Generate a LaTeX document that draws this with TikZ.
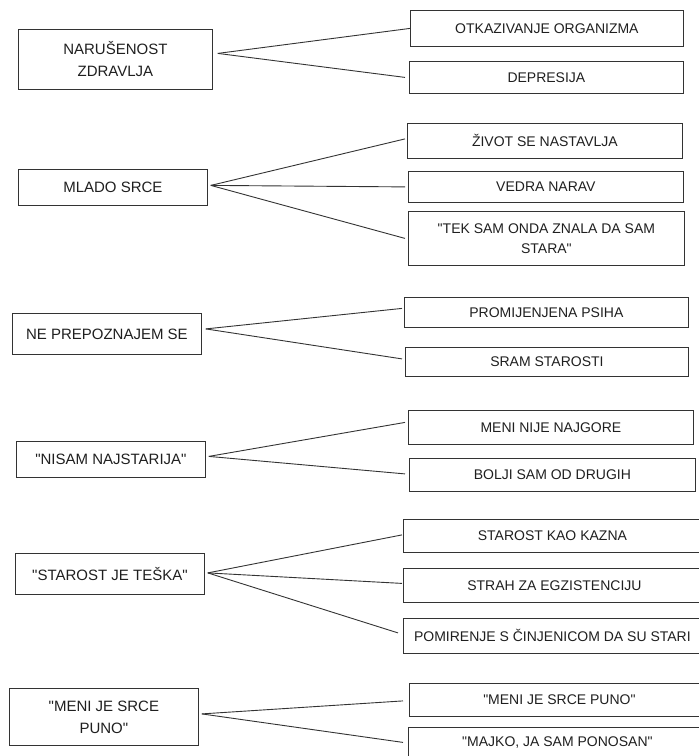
\documentclass[tikz,border=0pt]{standalone}
\usepackage{fontspec}
\setmainfont{Liberation Sans}[Ligatures=TeXOff]
\begin{document}
\begin{tikzpicture}[x=1pt,y=-1pt,
  catbox/.style={draw=black!80, line width=0.8pt, anchor=north west, inner sep=0pt,
    align=center, text=black!88, font=\fontsize{15}{22}\selectfont},
  subbox/.style={draw=black!80, line width=0.8pt, anchor=north west, inner sep=0pt,
    align=center, text=black!88, font=\fontsize{14}{20}\selectfont},
  link/.style={draw=black!80, line width=0.9pt}]
\useasboundingbox (0,0) rectangle (699,756);
\clip (0,0) rectangle (699,756);

% left-hand categories
\node[catbox, minimum width=194pt, minimum height=60pt] (L1) at (18,29) {NARUŠENOST\\ZDRAVLJA};
\node[catbox, minimum width=189pt, minimum height=36pt] (L2) at (18,169) {MLADO SRCE};
\node[catbox, minimum width=189pt, minimum height=41pt] (L3) at (12,313) {NE PREPOZNAJEM SE};
\node[catbox, minimum width=189pt, minimum height=36pt] (L4) at (16,441) {"NISAM NAJSTARIJA"};
\node[catbox, minimum width=189pt, minimum height=41pt] (L5) at (15,553) {"STAROST JE TEŠKA"};
\node[catbox, minimum width=189pt, minimum height=57pt] (L6) at (9,688) {"MENI JE SRCE\\PUNO"};

% right-hand subthemes
\node[subbox, minimum width=273pt, minimum height=36pt] (R1) at (410,10) {OTKAZIVANJE ORGANIZMA};
\node[subbox, minimum width=274pt, minimum height=32pt] (R2) at (409,61) {DEPRESIJA};
\node[subbox, minimum width=275pt, minimum height=35pt] (R3) at (407,123) {ŽIVOT SE NASTAVLJA};
\node[subbox, minimum width=275pt, minimum height=31pt] (R4) at (408,171) {VEDRA NARAV};
\node[subbox, minimum width=276pt, minimum height=54pt] (R5) at (408,211) {"TEK SAM ONDA ZNALA DA SAM\\STARA"};
\node[subbox, minimum width=284pt, minimum height=30pt] (R6) at (404,297) {PROMIJENJENA PSIHA};
\node[subbox, minimum width=283pt, minimum height=29pt] (R7) at (405,347) {SRAM STAROSTI};
\node[subbox, minimum width=285pt, minimum height=34pt] (R8) at (408,410) {MENI NIJE NAJGORE};
\node[subbox, minimum width=286pt, minimum height=33pt] (R9) at (409,458) {BOLJI SAM OD DRUGIH};
\node[subbox, minimum width=298pt, minimum height=33pt] (R10) at (403,519) {STAROST KAO KAZNA};
\node[subbox, minimum width=302pt, minimum height=34pt] (R11) at (403,568) {STRAH ZA EGZISTENCIJU};
\node[subbox, minimum width=298pt, minimum height=35pt] (R12) at (403,618) {POMIRENJE S ČINJENICOM DA SU STARI};
\node[subbox, minimum width=300pt, minimum height=33pt] (R13) at (409,683) {"MENI JE SRCE PUNO"};
\node[subbox, minimum width=298pt, minimum height=30pt] (R14) at (408,727) {"MAJKO, JA SAM PONOSAN"};

% connectors
\draw[link] ([xshift=5pt,yshift=6pt]L1.east) -- ([xshift=0pt]R1.west);
\draw[link] ([xshift=5pt,yshift=6pt]L1.east) -- ([xshift=-4pt]R2.west);
\draw[link] ([xshift=3pt,yshift=2pt]L2.east) -- ([xshift=-2pt,yshift=2pt]R3.west);
\draw[link] ([xshift=3pt,yshift=2pt]L2.east) -- ([xshift=-3pt]R4.west);
\draw[link] ([xshift=3pt,yshift=2pt]L2.east) -- ([xshift=-3pt]R5.west);
\draw[link] ([xshift=4pt,yshift=5pt]L3.east) -- ([xshift=-2pt,yshift=4pt]R6.west);
\draw[link] ([xshift=4pt,yshift=5pt]L3.east) -- ([xshift=-3pt,yshift=3pt]R7.west);
\draw[link] ([xshift=3pt,yshift=3pt]L4.east) -- ([xshift=-3pt,yshift=5pt]R8.west);
\draw[link] ([xshift=3pt,yshift=3pt]L4.east) -- ([xshift=-4pt,yshift=1pt]R9.west);
\draw[link] ([xshift=3pt,yshift=1pt]L5.east) -- ([xshift=-1pt,yshift=1pt]R10.west);
\draw[link] ([xshift=3pt,yshift=1pt]L5.east) -- ([xshift=-1pt,yshift=2pt]R11.west);
\draw[link] ([xshift=3pt,yshift=1pt]L5.east) -- ([xshift=-5pt,yshift=3pt]R12.west);
\draw[link] ([xshift=3pt,yshift=3pt]L6.east) -- ([xshift=-6pt,yshift=-1pt]R13.west);
\draw[link] ([xshift=3pt,yshift=3pt]L6.east) -- ([xshift=-5pt,yshift=0pt]R14.west);
\end{tikzpicture}
\end{document}
